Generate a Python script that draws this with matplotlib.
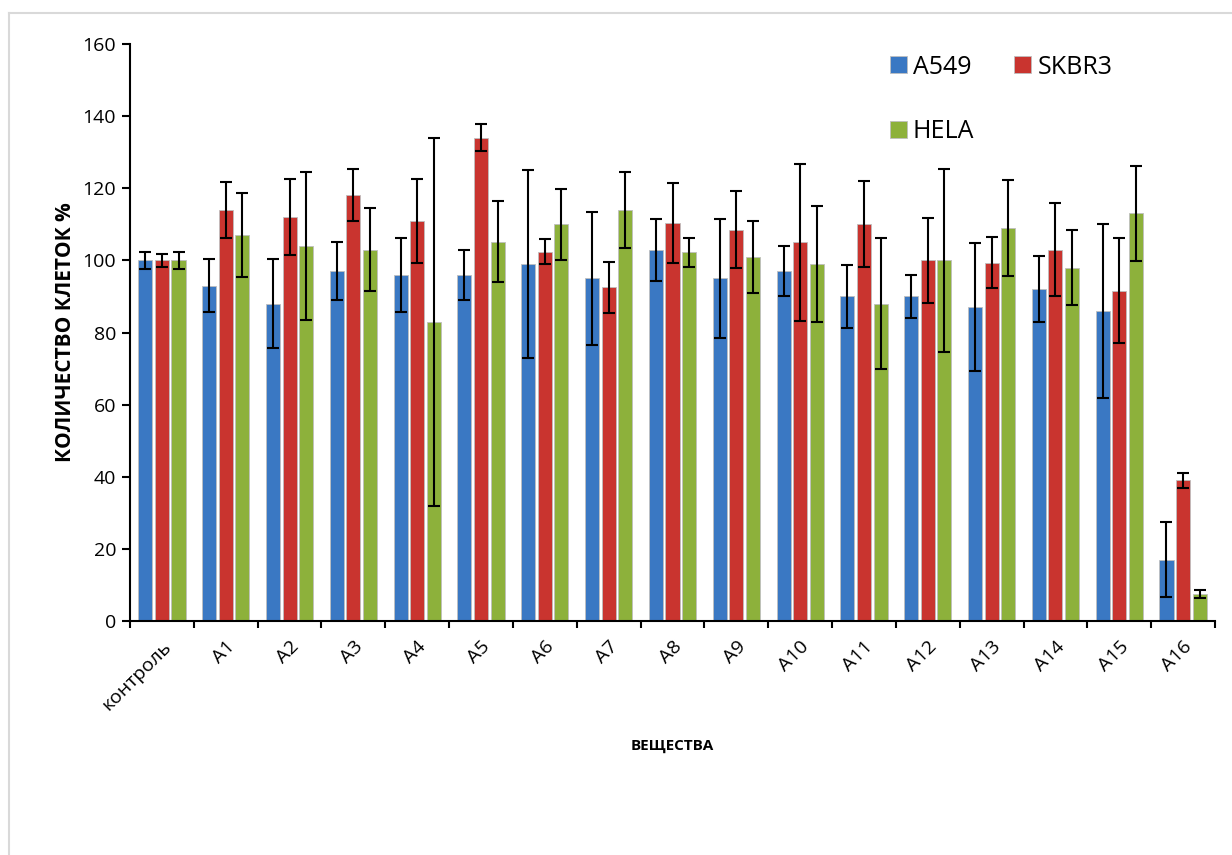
import numpy as np
import matplotlib.pyplot as plt
from matplotlib.lines import Line2D

plt.rcParams['font.family'] = ['Open Sans', 'DejaVu Sans']

# categories and values
categories = ['контроль', 'A1', 'A2', 'A3', 'A4', 'A5', 'A6', 'A7', 'A8',
              'A9', 'A10', 'A11', 'A12', 'A13', 'A14', 'A15', 'A16']

a549      = [100, 93, 88, 97, 96, 96, 99, 95, 103, 95, 97, 90, 90, 87, 92, 86, 17]
a549_err  = [2.3, 7.4, 12.4, 8, 10.2, 7, 26, 18.4, 8.6, 16.5, 6.9, 8.8, 6, 17.7, 9.2, 24.2, 10.4]

skbr3     = [100, 114, 112, 118, 111, 134, 102.4, 92.5, 110.4, 108.5, 105, 110, 100, 99.4, 103, 91.6, 39]
skbr3_err = [1.7, 7.8, 10.5, 7.2, 11.7, 3.8, 3.4, 7.1, 11, 10.7, 21.8, 11.9, 11.7, 7, 12.9, 14.5, 2]

hela      = [100, 107, 104, 103, 83, 105.2, 110, 114, 102.2, 101, 99, 88, 100, 109, 98, 113, 7.5]
hela_err  = [2.3, 11.7, 20.4, 11.4, 51, 11.3, 9.8, 10.5, 4, 10, 16, 18.2, 25.3, 13.3, 10.4, 13.3, 1.2]

series = [('A549', a549, a549_err, '#3A78C3'),
          ('SKBR3', skbr3, skbr3_err, '#C9342F'),
          ('HELA', hela, hela_err, '#8DB13B')]

fig = plt.figure(figsize=(12.32, 8.55), dpi=100)
ax = fig.add_axes([130/1232, 1 - 621/855, 1085/1232, 577/855])

# light frame around the chart area
fig.add_artist(Line2D([9/1232, 9/1232], [0, 1 - 13/855], color='#D9D9D9', lw=1.5))
fig.add_artist(Line2D([9/1232, 1], [1 - 13/855, 1 - 13/855], color='#D9D9D9', lw=1.5))

x = np.arange(len(categories))
width = 0.22
step = 0.26

handles = {}
for k, (name, vals, errs, col) in enumerate(series):
    pos = x + (k - 1) * step
    bars = ax.bar(pos, vals, width, color=col, edgecolor='#BFBFBF', linewidth=0.6,
                  label=name, zorder=2)
    ax.errorbar(pos, vals, yerr=errs, fmt='none', ecolor='black', elinewidth=1.5,
                capsize=4.5, capthick=1.5, zorder=3)
    handles[name] = bars

ax.set_xlim(-0.5, len(categories) - 0.5)
ax.set_ylim(0, 160)
ax.set_yticks(np.arange(0, 161, 20))

ax.set_xticks(x)
ax.set_xticklabels(categories, rotation=45, ha='right', va='top',
                   rotation_mode='anchor', fontsize=14)
ax.set_xticks(np.arange(-0.5, len(categories), 1), minor=True)
ax.tick_params(axis='x', which='major', length=0, pad=12)
ax.tick_params(axis='x', which='minor', length=5, width=1.5, direction='out')
ax.tick_params(axis='y', labelsize=14, length=6, width=1.5, direction='out', pad=4)

for side in ['top', 'right']:
    ax.spines[side].set_visible(False)
for side in ['left', 'bottom']:
    ax.spines[side].set_linewidth(1.5)

ax.set_ylabel('КОЛИЧЕСТВО КЛЕТОК %', fontsize=15, fontweight='bold', labelpad=5)
ax.set_xlabel('ВЕЩЕСТВА', fontsize=11, fontweight='bold', labelpad=18)

# order so that A549, SKBR3 sit in the first row and HELA in the second
order = ['A549', 'HELA', 'SKBR3']
ax.legend([handles[n] for n in order], order, ncol=2, frameon=False, fontsize=18,
          loc='upper left', bbox_to_anchor=(877/1232, 1 - 42/855),
          bbox_transform=fig.transFigure, borderpad=0, handlelength=0.68,
          handleheight=0.68, handletextpad=0.25, labelspacing=1.6, columnspacing=1.6)

fig.savefig('out.png', dpi=100)
